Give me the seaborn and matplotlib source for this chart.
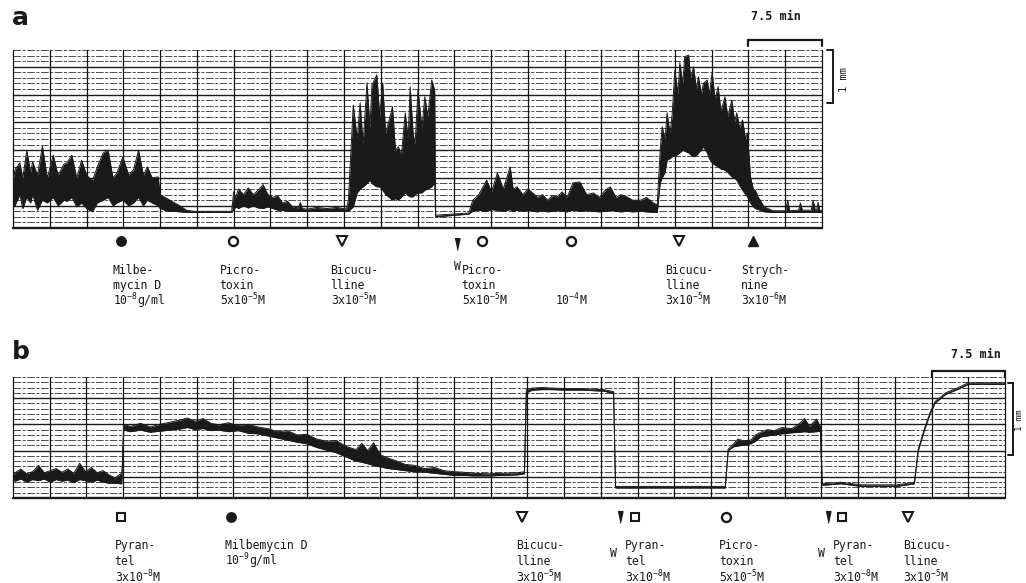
import numpy as np
import pandas as pd
import matplotlib
matplotlib.use("Agg")
import matplotlib.pyplot as plt
import seaborn as sns

# ---------------- data (time in minutes, pen deflection in chart divisions) ----------------
a_time = [0.0, 0.2, 0.7, 1.0, 1.4, 1.8, 2.0, 2.5, 3.0, 3.5, 4.1, 4.6, 5.2, 5.5, 6.0, 6.5, 7.0, 7.5,
          8.1, 8.6, 9.2, 9.7, 10.2, 10.6, 11.2, 11.8, 12.3, 12.8, 13.3, 13.7, 14.2, 14.8, 15.0, 15.5,
          16.0, 16.5, 17.0, 17.7, 18.5, 22.3,
          22.5, 22.7, 23.0, 23.5, 24.0, 24.5, 25.0, 25.5, 26.0, 26.5, 27.0, 27.5, 28.0, 28.5, 29.1,
          29.3, 29.5, 30.0, 31.0, 32.0, 33.0, 34.0,
          34.2, 34.7, 35.1, 35.4, 35.7, 36.1, 36.4, 36.6, 37.1, 37.4, 37.7, 38.0, 38.3, 38.7, 39.0,
          39.3, 39.6, 40.0, 40.3, 40.5, 40.8, 41.0, 41.3, 41.7, 42.0, 42.3, 42.7, 43.0, 43.1, 46.5,
          46.7, 46.9, 47.5, 48.3, 48.8, 49.4, 50.0, 50.7, 51.0, 51.4, 52.0, 52.5, 53.0, 53.5, 54.0,
          54.5, 55.0, 55.5, 56.0, 56.5, 57.1, 57.8, 58.5, 59.2, 59.8, 60.4, 60.9, 61.5, 62.0, 62.6,
          63.2, 64.0, 64.6, 65.3, 65.7,
          66.0, 66.2, 66.5, 66.7, 67.0, 67.2, 67.5, 67.8, 68.0, 68.3, 68.5, 68.9, 69.1, 69.4, 69.7,
          69.9, 70.2, 70.4, 70.8, 71.0, 71.3, 71.6, 71.9, 72.2, 72.6, 72.9, 73.3, 73.6, 73.8, 74.1,
          74.4, 74.7, 74.9, 75.2, 75.5, 75.7, 76.0, 76.2, 76.6,
          77.5, 78.8, 79.0, 79.2, 80.1, 80.3, 80.5, 81.4, 81.6, 81.8, 81.95, 82.1, 82.25, 82.5]
a_low = [4.5, 4.0, 6.0, 3.5, 5.5, 4.5, 6.0, 3.2, 5.0, 4.5, 5.5, 4.0, 5.0, 4.8, 5.5, 3.8, 4.5, 3.5,
         2.9, 4.5, 5.0, 5.5, 4.0, 4.5, 5.0, 4.0, 4.5, 5.5, 4.0, 5.0, 4.5, 4.0, 3.5, 3.2,
         3.0, 3.0, 2.9, 2.8, 2.8, 2.8,
         3.2, 3.8, 3.5, 4.0, 3.6, 4.0, 3.6, 3.5, 3.8, 3.5, 3.2, 3.2, 3.0, 3.0, 3.0,
         3.0, 3.0, 3.0, 3.0, 3.0, 3.0, 3.0,
         3.0, 3.8, 6.3, 7.0, 7.4, 8.0, 8.6, 8.0, 7.4, 7.4, 6.8, 6.0, 5.6, 5.0, 5.3,
         5.0, 5.5, 6.3, 5.8, 5.6, 5.6, 6.0, 6.3, 6.3, 6.8, 7.0, 7.4, 8.1, 2.0, 2.5,
         2.8, 3.0, 3.2, 3.0, 3.3, 3.2, 3.0, 3.3, 3.0, 3.2, 3.0, 3.2, 3.0, 2.9, 3.1,
         2.9, 3.0, 3.1, 3.0, 2.9, 3.2, 3.0, 3.1, 3.0, 2.9, 3.0, 3.2, 3.0, 2.9, 3.0,
         2.9, 3.0, 2.9, 2.8, 2.8,
         8.1, 9.0, 10.0, 12.2, 12.5, 12.8, 13.0, 13.2, 13.5, 14.0, 13.8, 13.5, 13.2, 12.8, 13.0,
         13.5, 14.0, 14.6, 13.5, 12.5, 11.7, 11.3, 11.0, 10.6, 10.4, 10.0, 9.2, 8.9, 8.6, 7.6,
         6.8, 6.0, 5.6, 4.5, 3.8, 3.5, 3.3, 3.2, 2.9,
         2.8, 2.8, 2.8, 2.8, 2.8, 2.8, 2.8, 2.8, 2.8, 2.8, 2.8, 2.8, 2.8, 2.8]
a_high = [8.0, 10.5, 11.7, 9.0, 13.9, 10.0, 11.9, 9.5, 14.7, 9.0, 13.1, 9.5, 11.5, 11.7, 13.1, 9.0, 12.2, 9.5,
          8.5, 11.0, 13.5, 14.0, 9.0, 9.9, 12.8, 9.5, 10.5, 14.0, 9.5, 11.0, 9.0, 9.2, 6.0, 5.5,
          5.0, 4.5, 4.0, 3.2, 3.0, 3.0,
          6.5, 5.5, 7.0, 6.0, 7.2, 6.0, 6.8, 7.8, 6.0, 5.5, 5.8, 4.5, 4.8, 3.8, 3.6,
          4.6, 3.5, 3.4, 3.7, 3.5, 3.7, 3.4,
          5.0, 22.1, 16.0, 22.5, 15.0, 26.1, 18.0, 25.7, 27.5, 20.0, 26.1, 17.0, 19.0, 21.8, 14.0,
          14.6, 13.0, 20.7, 16.0, 25.4, 17.0, 15.0, 24.8, 18.0, 23.6, 20.0, 26.6, 24.8, 2.3, 2.7,
          4.0, 5.0, 6.0, 8.6, 6.5, 9.9, 7.0, 11.0, 7.0, 7.4, 6.0, 7.0, 6.3, 5.5, 6.0,
          5.0, 5.8, 5.6, 6.5, 5.5, 8.1, 8.3, 6.0, 6.3, 5.5, 6.8, 7.4, 5.5, 6.0, 5.6,
          5.0, 5.0, 5.5, 4.5, 4.2,
          14.0, 18.2, 16.0, 20.7, 17.0, 20.0, 28.4, 24.0, 29.7, 26.0, 30.8, 31.1, 27.0, 29.0, 25.0,
          27.2, 24.0, 26.0, 26.6, 24.0, 27.9, 23.0, 25.4, 21.0, 23.6, 20.0, 23.0, 19.0, 20.7, 18.0,
          19.4, 16.0, 17.1, 9.2, 7.0, 6.8, 5.5, 5.0, 3.8,
          3.1, 3.1, 5.0, 3.1, 3.2, 4.5, 3.2, 3.2, 5.0, 3.3, 3.2, 4.6, 3.2, 3.2]

b_time = [0.0, 0.2, 0.8, 1.4, 2.0, 2.6, 3.2, 3.8, 4.4, 5.0, 5.6, 6.2, 6.8, 7.4, 8.0, 8.6, 9.2, 9.8,
          10.4, 11.0, 11.1,
          11.3, 12.0, 13.0, 14.0, 15.0, 16.0, 17.0, 17.8, 18.6, 19.4, 20.2, 21.0, 22.0, 23.0, 24.0,
          25.0, 26.0, 27.0, 28.0, 29.0, 30.0, 31.0, 32.0, 33.0, 34.0, 35.0, 35.6, 36.2, 36.8, 37.5,
          38.3, 39.2, 40.0, 41.0, 42.0, 43.0, 44.0, 45.0, 46.0, 47.0, 48.5, 50.0, 51.5, 52.2,
          52.4, 53.0, 54.0, 55.0, 56.5, 58.2, 60.3, 61.3, 61.5, 72.7,
          73.0, 73.5, 74.0, 74.5, 75.3, 75.8, 76.3, 77.0, 77.7, 78.5, 79.5, 80.3, 80.8, 81.3, 82.0, 82.4,
          82.6, 84.5, 86.6, 90.2, 92.0, 92.4, 93.1, 93.6, 94.1, 95.2, 96.5, 97.5, 101.25]
b_low = [3.4, 3.2, 3.6, 3.0, 3.5, 3.3, 3.6, 3.0, 3.5, 3.2, 3.4, 2.9, 3.5, 3.3, 3.0, 3.4, 3.0, 2.8,
         2.8, 2.7, 2.7,
         12.9, 12.6, 12.9, 12.5, 12.7, 12.9, 13.1, 13.4, 13.0, 13.2, 12.8, 12.9, 12.6, 12.8, 12.3,
         12.2, 11.8, 11.4, 11.0, 10.6, 10.3, 9.6, 9.1, 8.6, 7.8, 7.0, 6.8, 6.5, 6.2, 5.9,
         5.6, 5.4, 5.2, 5.0, 4.9, 4.7, 4.5, 4.3, 4.3, 4.2, 4.2, 4.3, 4.4, 4.6,
         20.0, 20.5, 20.6, 20.6, 20.5, 20.5, 20.3, 19.9, 1.9, 1.9,
         9.0, 9.7, 9.9, 10.0, 10.3, 10.8, 11.6, 11.8, 12.0, 12.2, 12.4, 12.5, 12.6, 12.5, 12.6, 12.7,
         2.4, 2.7, 2.2, 2.2, 2.7, 9.0, 13.3, 15.9, 18.0, 19.7, 20.7, 21.6, 21.6]
b_high = [4.4, 4.8, 5.5, 4.6, 5.0, 6.2, 4.8, 5.2, 5.6, 4.9, 5.5, 4.7, 6.6, 5.0, 5.8, 4.8, 5.2, 4.4,
          3.8, 4.6, 3.4,
          14.0, 13.6, 14.2, 13.5, 14.0, 14.4, 14.8, 15.2, 14.6, 15.1, 14.2, 13.9, 14.3, 13.8, 14.0,
          13.5, 13.2, 12.6, 12.8, 12.0, 12.1, 11.2, 10.8, 10.9, 9.8, 9.2, 10.4, 9.0, 10.5, 8.2,
          7.6, 7.0, 6.4, 6.2, 5.6, 5.8, 5.2, 5.0, 4.9, 4.7, 4.6, 4.7, 4.8, 5.0,
          20.6, 20.9, 21.0, 20.9, 20.8, 20.8, 20.6, 20.2, 2.2, 2.2,
          9.3, 10.2, 11.2, 10.9, 11.0, 12.0, 12.5, 13.0, 12.8, 13.4, 13.2, 14.2, 15.1, 13.6, 15.0, 13.6,
          2.7, 3.0, 2.5, 2.5, 3.0, 9.3, 13.6, 16.2, 18.3, 20.0, 21.0, 21.9, 21.9]

a_event_time = [11.0, 22.4, 33.5, 45.3, 47.8, 56.9, 67.9, 75.5]
a_event_drug = ["Milbemycin D", "Picrotoxin", "Bicuculline", "W", "Picrotoxin", "Picrotoxin",
                "Bicuculline", "Strychnine"]
a_event_text = [["Milbe-", "mycin D", r"10$^{-8}$g/ml"],
                ["Picro-", "toxin", r"5x10$^{-5}$M"],
                ["Bicucu-", "lline", r"3x10$^{-5}$M"],
                ["W"],
                ["Picro-", "toxin", r"5x10$^{-5}$M"],
                ["", "", r"10$^{-4}$M"],
                ["Bicucu-", "lline", r"3x10$^{-5}$M"],
                ["Strych-", "nine", r"3x10$^{-6}$M"]]

b_event_time = [11.0, 22.3, 52.0, 62.0, 63.5, 72.8, 83.2, 84.6, 91.4]
b_event_drug = ["Pyrantel", "Milbemycin D", "Bicuculline", "W", "Pyrantel", "Picrotoxin", "W",
                "Pyrantel", "Bicuculline"]
b_event_text = [["Pyran-", "tel", r"3x10$^{-8}$M"],
                ["Milbemycin D", r"10$^{-9}$g/ml"],
                ["Bicucu-", "lline", r"3x10$^{-5}$M"],
                ["W"],
                ["Pyran-", "tel", r"3x10$^{-8}$M"],
                ["Picro-", "toxin", r"5x10$^{-5}$M"],
                ["W"],
                ["Pyran-", "tel", r"3x10$^{-8}$M"],
                ["Bicucu-", "lline", r"3x10$^{-5}$M"]]

time_bar_label = "7.5 min"
time_bar_minutes = 7.5
gain_label = "1 mm"

# ---------------- style ----------------
sns.set_theme(style="white")
plt.rcParams["font.family"] = ["DejaVu Sans Mono", "DejaVu Sans"]
plt.rcParams["text.color"] = "black"
plt.rcParams["mathtext.fontset"] = "custom"
plt.rcParams["mathtext.rm"] = "DejaVu Sans Mono"
plt.rcParams["mathtext.default"] = "rm"

W, H = 1026, 583
fig = plt.figure(figsize=(W / 100, H / 100), dpi=100)
fig.patch.set_facecolor("white")


def px_axes(left, right, top, bottom):
    return fig.add_axes([left / W, 1 - bottom / H, (right - left) / W, (bottom - top) / H])


wedge = [(-0.22, 0.5), (0.22, 0.5), (0.0, -0.5)]
marker_style = {
    "Milbemycin D": dict(marker="o", mfc="k", mec="k", ms=6.8, mew=1.0),
    "Picrotoxin": dict(marker="o", mfc="white", mec="k", ms=6.5, mew=1.7),
    "Bicuculline": dict(marker="v", mfc="white", mec="k", ms=7.5, mew=1.5),
    "Strychnine": dict(marker="^", mfc="k", mec="k", ms=7.5, mew=1.0),
    "Pyrantel": dict(marker="s", mfc="white", mec="k", ms=6.0, mew=1.5),
    "W": dict(marker=wedge, mfc="k", mec="k", ms=8.5, mew=0.8),
}

DIV = 3.75  # minutes per vertical chart division


def chart_paper(ax, t_end, n_div):
    ax.set_xlim(0, t_end)
    ax.set_ylim(0, n_div)
    for k in range(1, n_div + 1):
        heavy = (k % 5 == 4)
        ax.axhline(k, color="#1c1c1c", lw=1.0 if heavy else 0.55,
                   ls="-" if heavy else (0, (10, 2, 4, 2)), zorder=1, clip_on=False)
    for x in np.arange(0, t_end + 0.01, DIV):
        ax.axvline(x, color="#111111", lw=0.9, zorder=1, clip_on=False)
    ax.axhline(0, color="k", lw=1.7, zorder=2, clip_on=False)


def trace(ax, t, lo, hi):
    ax.fill_between(t, lo, hi, color="k", lw=0, zorder=3)
    df = pd.DataFrame({"t": t, "lo": lo, "hi": hi})
    sns.lineplot(data=df, x="t", y="hi", ax=ax, color="k", lw=0.7, estimator=None, sort=False, zorder=4)
    sns.lineplot(data=df, x="t", y="lo", ax=ax, color="k", lw=0.7, estimator=None, sort=False, zorder=4)
    ax.set_xlabel("")
    ax.set_ylabel("")
    ax.axis("off")


def events(ax, times, drugs, texts, bottom_px, height_px, marker_px, rows_px, dxs, w_pos):
    xt = ax.get_xaxis_transform()
    for t, d, lines, dx in zip(times, drugs, texts, dxs):
        my = marker_px + (3 if d == "W" and w_pos[2] else 0)
        ax.plot([t], [(bottom_px - my) / height_px], transform=xt, clip_on=False,
                **marker_style[d])
        if d == "W":
            ax.annotate(lines[0], xy=(t, 0), xycoords=xt, xytext=(w_pos[0], -(w_pos[1] - bottom_px)),
                        textcoords="offset pixels", ha="center", va="baseline", fontsize=8.3,
                        color="k", annotation_clip=False)
            continue
        for line, row in zip(lines, rows_px):
            if line:
                ax.annotate(line, xy=(t, 0), xycoords=xt, xytext=(dx, -(row - bottom_px)),
                            textcoords="offset pixels", ha="left", va="baseline", fontsize=8.3,
                            color="k", annotation_clip=False)


def scale_bars(ax, t_end, bottom_px, height_px, width_px, bar_px, tick_px, label_px, label_t,
               gain_x_px, gain_top_px, gain_bot_px, gain_text_px, gain_text_y, gain_fs):
    xt = ax.get_xaxis_transform()
    yb = (bottom_px - bar_px) / height_px
    yt = (bottom_px - tick_px) / height_px
    ax.plot([t_end - time_bar_minutes, t_end - time_bar_minutes, t_end, t_end], [yt, yb, yb, yt],
            transform=xt, color="k", lw=1.6, clip_on=False, solid_joinstyle="miter")
    ax.text(label_t, (bottom_px - label_px) / height_px, time_bar_label, transform=xt,
            ha="center", va="center", fontsize=8.5, fontweight="bold", color="k")
    x0 = 1 + gain_x_px[0] / width_px
    x1 = 1 + gain_x_px[1] / width_px
    y0 = (bottom_px - gain_top_px) / height_px
    y1 = (bottom_px - gain_bot_px) / height_px
    ax.plot([x0, x1, x1, x0], [y0, y0, y1, y1], transform=ax.transAxes, color="k", lw=1.4,
            clip_on=False, solid_joinstyle="miter")
    ax.text(1 + gain_text_px / width_px, (bottom_px - gain_text_y) / height_px, gain_label,
            transform=ax.transAxes, rotation=90, ha="center", va="center", fontsize=gain_fs,
            color="k")


# ---------------- panel a ----------------
ax_a = px_axes(13, 822, 50, 228)
chart_paper(ax_a, 22 * DIV, 32)
trace(ax_a, a_time, a_low, a_high)
events(ax_a, a_event_time, a_event_drug, a_event_text, 228, 178, 241, [274, 289.5, 305],
       [-8, -13, -11, 0, -20, -16, -14, -12], (0, 270, True))
scale_bars(ax_a, 22 * DIV, 228, 178, 809, 40, 46, 17, 77.8, (5, 11), 50, 103, 22, 80, 7.5)
fig.text(12 / W, 1 - 18 / H, "a", fontsize=18, fontweight="bold", family="DejaVu Sans",
         ha="left", va="center", color="k")

# ---------------- panel b ----------------
ax_b = px_axes(13, 1005, 377, 498)
chart_paper(ax_b, 27 * DIV, 23)
trace(ax_b, b_time, b_low, b_high)
events(ax_b, b_event_time, b_event_drug, b_event_text, 498, 121, 517, [549, 565, 582],
       [-6, -6, -6, 0, -10, -7, 0, -9, -5], (-7, 557, False))
scale_bars(ax_b, 27 * DIV, 498, 121, 992, 371, 377, 354, 98.3, (3, 8), 383, 455, 14, 420, 6.5)
fig.text(12 / W, 1 - 352 / H, "b", fontsize=18, fontweight="bold", family="DejaVu Sans",
         ha="left", va="center", color="k")

fig.savefig("out.png", dpi=100, facecolor="white")
